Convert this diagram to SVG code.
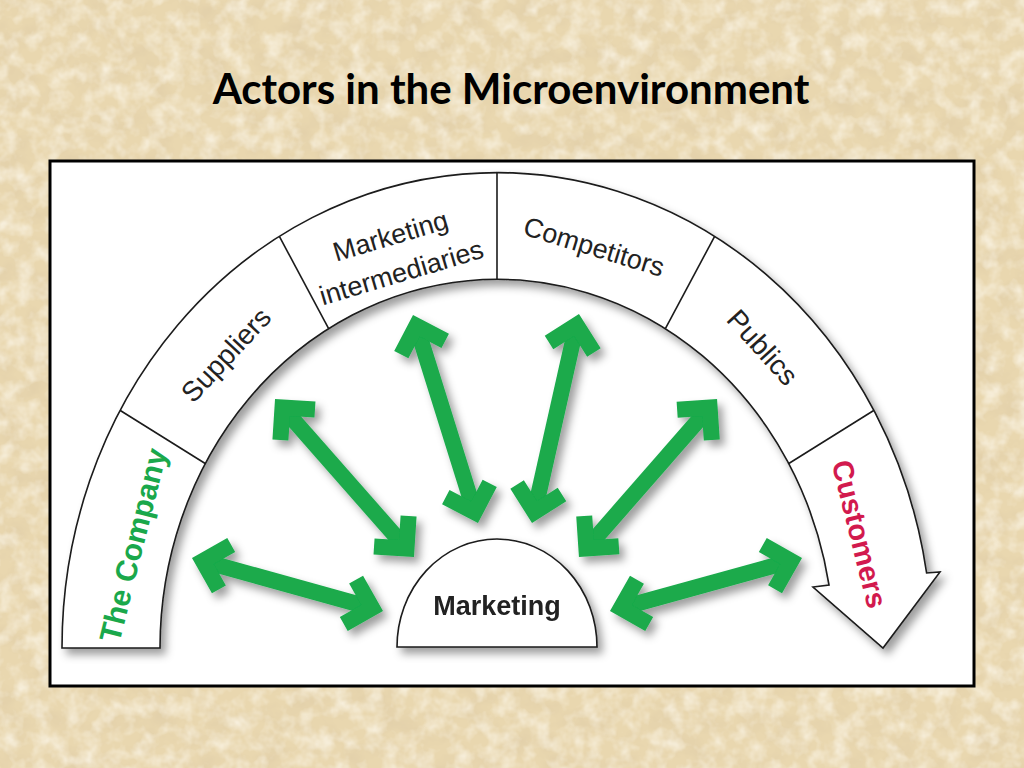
<svg xmlns="http://www.w3.org/2000/svg" width="1024" height="768" viewBox="0 0 1024 768">
<defs>
<style>
.band{fill:#fff;stroke:#1a1a1a;stroke-width:1.6;stroke-linejoin:miter}
.div{stroke:#1a1a1a;stroke-width:1.6;fill:none}
.lbl{font-family:"Liberation Sans",Arial,sans-serif;fill:#222;text-anchor:middle;dominant-baseline:central}
.bold{font-weight:bold}
.arrow{stroke:#1aaa4b;stroke-width:16;fill:none;marker-start:url(#hd);marker-end:url(#hd)}
.title{font-family:Lato,"Liberation Sans",sans-serif;font-weight:bold;font-size:42px;fill:#000;text-anchor:middle}
</style>
<filter id="tex" x="0" y="0" width="100%" height="100%">
<feTurbulence type="fractalNoise" baseFrequency="0.035 0.045" numOctaves="4" seed="7" result="n"/>
<feColorMatrix in="n" type="matrix" values="0 0 0 0 0.72  0 0 0 0 0.59  0 0 0 0 0.38  1.1 0 0 0 -0.45"/>
</filter>
<filter id="tex2" x="0" y="0" width="100%" height="100%">
<feTurbulence type="fractalNoise" baseFrequency="0.06" numOctaves="3" seed="21" result="n"/>
<feColorMatrix in="n" type="matrix" values="0 0 0 0 0.98  0 0 0 0 0.94  0 0 0 0 0.84  0 1.5 0 0 -0.6"/>
</filter>
<filter id="sh" x="-20%" y="-20%" width="140%" height="140%">
<feGaussianBlur in="SourceAlpha" stdDeviation="4.5"/>
<feOffset dx="5" dy="6" result="b"/>
<feFlood flood-color="#000" flood-opacity="0.38"/>
<feComposite in2="b" operator="in"/>
<feMerge><feMergeNode/><feMergeNode in="SourceGraphic"/></feMerge>
</filter>
<marker id="hd" viewBox="-40 -40 80 80" markerWidth="80" markerHeight="80" refX="0" refY="0" markerUnits="userSpaceOnUse" orient="auto-start-reverse">
<polyline points="-23,-23 0,0 -23,23" fill="none" stroke="#1aaa4b" stroke-width="16" stroke-linejoin="miter" stroke-linecap="butt"/>
</marker>
</defs>

<g id="background">
<rect width="1024" height="768" fill="#e9d7af"/>
<rect width="1024" height="768" filter="url(#tex)"/>
<rect width="1024" height="768" filter="url(#tex2)"/>
</g>

<text class="title" x="511" y="104">Actors in the Microenvironment</text>

<rect id="panel" x="50" y="161" width="924" height="525" fill="#fff" stroke="#000" stroke-width="3"/>

<g id="band" filter="url(#sh)">
<path class="band" d="M62,648 A435,475 0 0 1 926.6,573 L940,572 L883,648 L813,587 L829,585 A337,369 0 0 0 160,648 Z"/>
<line class="div" x1="120.3" y1="410.5" x2="205.2" y2="463.5"/>
<line class="div" x1="279.5" y1="236.7" x2="328.5" y2="328.4"/>
<line class="div" x1="497" y1="173" x2="497" y2="279"/>
<line class="div" x1="714.5" y1="236.7" x2="665.5" y2="328.4"/>
<line class="div" x1="873.7" y1="410.5" x2="788.8" y2="463.5"/>
</g>

<g id="the-company"><text class="lbl bold" font-size="30" style="fill:#1aa84b" transform="translate(133,545) rotate(-76)">The Company</text></g>
<g id="suppliers"><text class="lbl" font-size="28" transform="translate(226,355) rotate(-47)">Suppliers</text></g>
<g id="marketing-intermediaries"><text class="lbl" font-size="27" transform="translate(396,254.5) rotate(-16.5)"><tspan x="0" y="-19">Marketing</tspan><tspan x="0" y="19">intermediaries</tspan></text></g>
<g id="competitors"><text class="lbl" font-size="27" transform="translate(594,247) rotate(17)">Competitors</text></g>
<g id="publics"><text class="lbl" font-size="28" transform="translate(762.5,347.5) rotate(48)">Publics</text></g>
<g id="customers"><text class="lbl bold" font-size="29" style="fill:#d21a4e" transform="translate(859.5,534) rotate(76)">Customers</text></g>

<g id="marketing" filter="url(#sh)">
<path d="M397,647 A100,108 0 0 1 597,647 Z" fill="#fff" stroke="#1a1a1a" stroke-width="1.6"/>
<text class="lbl bold" font-size="27" x="497" y="606">Marketing</text>
</g>

<g id="connectors" filter="url(#sh)">
<line class="arrow" x1="202.9" y1="561" x2="372.1" y2="608"/>
<line class="arrow" x1="282.5" y1="407.5" x2="406.5" y2="548.5"/>
<line class="arrow" x1="416.4" y1="325.8" x2="474.6" y2="512.2"/>
<line class="arrow" x1="576.5" y1="325" x2="534.5" y2="512"/>
<line class="arrow" x1="709.6" y1="407.5" x2="586.4" y2="548.5"/>
<line class="arrow" x1="791.1" y1="561" x2="620.9" y2="608"/>
</g>
</svg>
